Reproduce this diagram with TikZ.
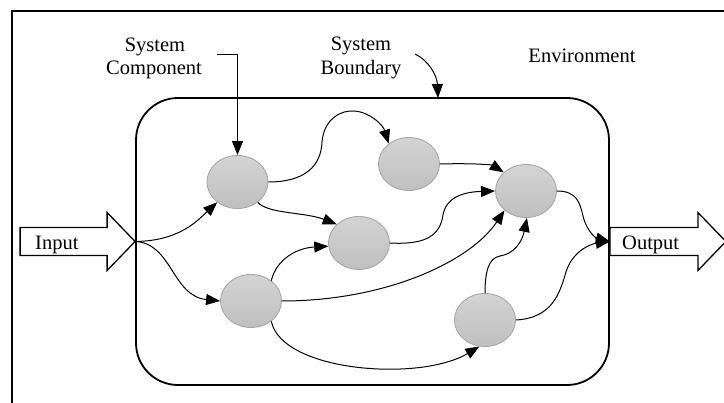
\documentclass[tikz,border=0pt]{standalone}
\usepackage{fontspec}
\setmainfont{Liberation Serif}
\usetikzlibrary{shapes.geometric,arrows.meta}

\tikzset{
  comp/.style={ellipse, draw=black!35, line width=0.9pt,
    top color=black!17, bottom color=black!25,
    minimum width=61pt, minimum height=53pt, inner sep=0pt},
  flow/.style={line width=1pt, -{Triangle[length=14pt,width=11pt]}},
  pointer/.style={line width=1pt, -{Triangle[length=14pt,width=11pt]}},
  bigarrow/.style={line width=1.3pt, fill=white, line join=miter},
  lbl/.style={font=\fontsize{20.5}{24}\selectfont, inner sep=0pt, anchor=base},
  frame/.style={line width=1.8pt}
}

\begin{document}
\begin{tikzpicture}[x=1pt,y=-1pt]
  \useasboundingbox (0,0) rectangle (724,403);

  % environment frame (runs off the right and bottom)
  \draw[frame] (12,410) -- (12,11) -- (730,11);

  % system boundary
  \node[draw, line width=1.8pt, rounded corners=42pt,
        minimum width=473pt, minimum height=287pt, inner sep=0pt]
        (sys) at (372.5,241.5) {};

  % input and output block arrows
  \draw[bigarrow] (sys.west) -- ++(-28,-29) -- ++(0,15) -- ++(-87,0)
        -- ++(0,28) -- ++(87,0) -- ++(0,15) -- cycle;
  \draw[bigarrow] (sys.east) -- ++(0,-14) -- ++(88,0) -- ++(0,-15)
        -- ++(28,29) -- ++(-28,29) -- ++(0,-15) -- ++(-88,0) -- cycle;
  \node[lbl, anchor=base west] (inp) at (35,250) {Input};
  \node[lbl, anchor=base west] (outp) at (622,250) {Output};

  % components
  \node[comp] (n1) at (237.5,182) {};
  \node[comp] (n2) at (409,164) {};
  \node[comp] (n3) at (359,243) {};
  \node[comp] (n4) at (251,301) {};
  \node[comp] (n5) at (485,320) {};
  \node[comp] (n6) at (526,191) {};

  % labels
  \node[lbl] (sc1) at (155,52) {System};
  \node[lbl] (sc2) at (154,75) {Component};
  \node[lbl] (sb1) at (361,51) {System};
  \node[lbl] (sb2) at (361,75) {Boundary};
  \node[lbl] (env) at (582,63) {Environment};

  \coordinate (cstart) at (217,55);
  \coordinate (bstart) at (415,54);
  \coordinate (btip) at (438,98);

  % label pointers
  \draw[pointer] (cstart) -- (cstart -| n1.north) -- (n1.north);
  \draw[pointer] (bstart) .. controls (428,60) and (437,75) .. (btip);

  % flows
  \draw[flow] (sys.west) .. controls (180,241) and (198,220) .. (n1.225);
  \draw[flow] (sys.west) .. controls (172,243) and (172,296) .. (n4.180);
  \draw[flow] (n1.east) .. controls (305,182) and (321,166) .. (322,142)
        .. controls (324,118) and (342,110) .. (354,111)
        .. controls (370,112) and (383,125) .. (n2.135);
  \draw[flow] (n1.-45) .. controls (268,214) and (305,212) .. (n3.140);
  \draw[flow] (n2.east) .. controls (475,163) and (492,165) .. (n6.140);
  \draw[flow] (n3.east) .. controls (425,245) and (440,236) .. (443,215)
        .. controls (446,198) and (462,192) .. (n6.west);
  \draw[flow] (n4.45) .. controls (276,260) and (296,248) .. (n3.186);
  \draw[flow] (n4.east) .. controls (385,301) and (470,262) .. (n6.222);
  \draw[flow] (n4.-45) .. controls (282,372) and (420,382) .. (n5.258);
  \draw[flow] (n5.north) .. controls (485,268) and (490,258) .. (500,256)
        .. controls (514,254) and (522,242) .. (n6.-88);
  \draw[flow] (n5.east) .. controls (553,318) and (560,292) .. (566,272)
        .. controls (572,252) and (590,244) .. (sys.east);
  \draw[flow] (n6.east) .. controls (577,191) and (580,203) .. (583,216)
        .. controls (587,232) and (596,238) .. (sys.east);
\end{tikzpicture}
\end{document}
